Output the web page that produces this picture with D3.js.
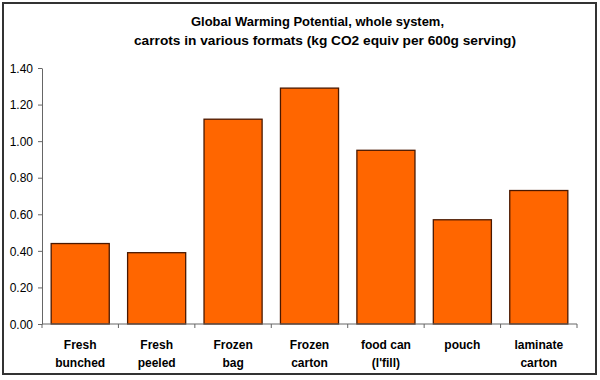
<!DOCTYPE html>
<html><head><meta charset="utf-8">
<script src="https://cdn.jsdelivr.net/npm/d3@7"></script>
<style>body{margin:0;background:#fff}svg{display:block;font-family:Arial,"Liberation Sans",sans-serif}</style>
</head><body><svg id="c" width="600" height="380"></svg>
<script>
const categories = [["Fresh","bunched"],["Fresh","peeled"],["Frozen","bag"],["Frozen","carton"],["food can","(l'fill)"],["pouch"],["laminate","carton"]];
const values = [0.44, 0.39, 1.12, 1.29, 0.95, 0.57, 0.73];
const yTicks = [0, 0.2, 0.4, 0.6, 0.8, 1.0, 1.2, 1.4];
const titleLines = ["Global Warming Potential, whole system,", "carrots in various formats (kg CO2 equiv per 600g serving)"];

const svg = d3.select("#c");
svg.append("rect").attr("x",3).attr("y",3).attr("width",593).attr("height",371)
  .attr("fill","#fff").attr("stroke","#333").attr("stroke-width",2);

const pL=42, pR=577, pT=68, pB=324;
const x = d3.scaleBand().domain(d3.range(values.length)).range([pL,pR]).paddingInner(0.24).paddingOuter(0.12);
const y = d3.scaleLinear().domain([0,1.4]).range([pB,pT]);

svg.append("g").selectAll("rect").data(values).join("rect")
  .attr("x",(d,i)=>x(i)).attr("width",x.bandwidth())
  .attr("y",d=>y(d)).attr("height",d=>y(0)-y(d))
  .attr("fill","#FF6600").attr("stroke","#4a1800").attr("stroke-width",1.3);

const yAxis = svg.append("g").attr("transform",`translate(${pL},0)`)
  .call(d3.axisLeft(y).tickValues(yTicks).tickFormat(d3.format(".2f")).tickSize(4).tickSizeOuter(0));
yAxis.select(".domain").attr("stroke","#666");
yAxis.selectAll(".tick line").attr("stroke","#666");
yAxis.selectAll("text").attr("font-size",12).attr("fill","#000").attr("x",-9).attr("dy","0.35em")
  .attr("font-family","Arial, 'Liberation Sans', sans-serif");

const bounds = d3.range(values.length+1).map(i=>pL+i*(pR-pL)/values.length);
const xg = svg.append("g");
xg.append("line").attr("x1",pL).attr("x2",pR).attr("y1",pB).attr("y2",pB).attr("stroke","#666");
xg.selectAll("line.t").data(bounds).join("line").attr("class","t")
  .attr("x1",d=>d).attr("x2",d=>d).attr("y1",pB).attr("y2",pB+4).attr("stroke","#666");

const lab = svg.append("g").attr("font-size",12).attr("font-weight","bold").attr("text-anchor","middle");
categories.forEach((c,i)=>{
  const cx = x(i)+x.bandwidth()/2;
  c.forEach((t,j)=>{
    lab.append("text").attr("x",cx).attr("y",349+j*18).text(t);
  });
});

const tg = svg.append("g").attr("font-size",13).attr("font-weight","bold").attr("text-anchor","middle");
tg.append("text").attr("x",317.5).attr("y",26).attr("textLength",253).attr("lengthAdjust","spacingAndGlyphs").text(titleLines[0]);
tg.append("text").attr("x",325).attr("y",45).attr("textLength",382).attr("lengthAdjust","spacingAndGlyphs").text(titleLines[1]);
</script></body></html>
